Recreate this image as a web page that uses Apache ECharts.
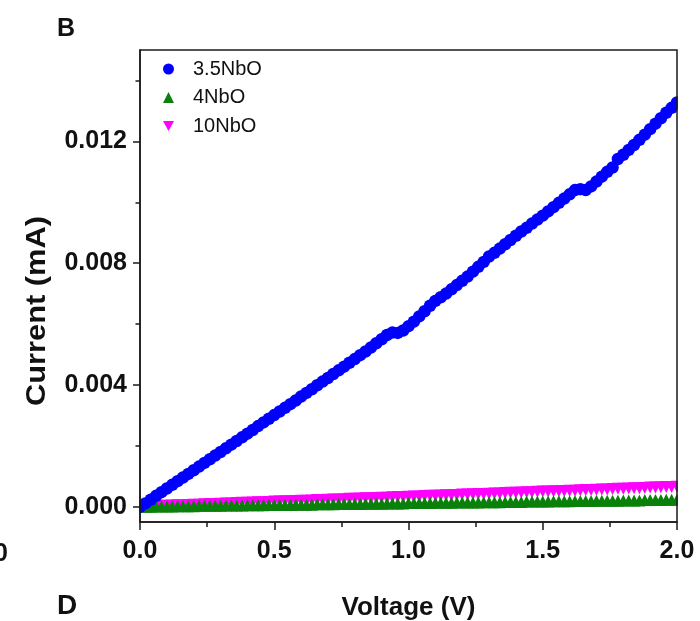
<!DOCTYPE html>
<html>
<head>
<meta charset="utf-8">
<script src="https://cdn.jsdelivr.net/npm/echarts@6/dist/echarts.min.js"></script>
<style>
  html, body { margin: 0; padding: 0; background: #fff; }
  #chart { width: 700px; height: 621px; }
</style>
</head>
<body>
<div id="chart"></div>
<script>
// Sweep voltage (V)
const voltage = [
  0.00,0.02,0.04,0.06,0.08,0.10,0.12,0.14,0.16,0.18,
  0.20,0.22,0.24,0.26,0.28,0.30,0.32,0.34,0.36,0.38,
  0.40,0.42,0.44,0.46,0.48,0.50,0.52,0.54,0.56,0.58,
  0.60,0.62,0.64,0.66,0.68,0.70,0.72,0.74,0.76,0.78,
  0.80,0.82,0.84,0.86,0.88,0.90,0.92,0.94,0.96,0.98,
  1.00,1.02,1.04,1.06,1.08,1.10,1.12,1.14,1.16,1.18,
  1.20,1.22,1.24,1.26,1.28,1.30,1.32,1.34,1.36,1.38,
  1.40,1.42,1.44,1.46,1.48,1.50,1.52,1.54,1.56,1.58,
  1.60,1.62,1.64,1.66,1.68,1.70,1.72,1.74,1.76,1.78,
  1.80,1.82,1.84,1.86,1.88,1.90,1.92,1.94,1.96,1.98,
  2.00
];

// Current (mA) for each sample
const current35NbO = [
  0.00000,0.00011,0.00023,0.00036,0.00048,0.00060,0.00072,0.00084,0.00096,0.00108,
  0.00120,0.00132,0.00144,0.00156,0.00168,0.00180,0.00192,0.00204,0.00216,0.00228,
  0.00240,0.00252,0.00265,0.00277,0.00289,0.00301,0.00313,0.00325,0.00337,0.00349,
  0.00362,0.00374,0.00386,0.00399,0.00411,0.00423,0.00436,0.00448,0.00460,0.00473,
  0.00485,0.00498,0.00510,0.00523,0.00537,0.00550,0.00564,0.00572,0.00571,0.00579,
  0.00593,0.00608,0.00625,0.00642,0.00660,0.00676,0.00688,0.00700,0.00714,0.00728,
  0.00742,0.00756,0.00772,0.00788,0.00804,0.00822,0.00834,0.00848,0.00862,0.00876,
  0.00890,0.00904,0.00916,0.00930,0.00943,0.00956,0.00970,0.00984,0.00998,0.01012,
  0.01026,0.01040,0.01043,0.01040,0.01052,0.01068,0.01084,0.01100,0.01114,0.01142,
  0.01156,0.01172,0.01188,0.01205,0.01222,0.01240,0.01258,0.01276,0.01294,0.01310,
  0.01328
];

const current4NbO = [
  0.00000,0.00000,0.00000,0.00001,0.00001,0.00001,0.00001,0.00002,0.00002,0.00002,
  0.00002,0.00003,0.00003,0.00003,0.00003,0.00003,0.00004,0.00004,0.00004,0.00004,
  0.00005,0.00005,0.00005,0.00005,0.00006,0.00006,0.00006,0.00006,0.00006,0.00007,
  0.00007,0.00007,0.00007,0.00008,0.00008,0.00008,0.00008,0.00009,0.00009,0.00009,
  0.00009,0.00009,0.00010,0.00010,0.00010,0.00010,0.00011,0.00011,0.00011,0.00011,
  0.00012,0.00012,0.00012,0.00012,0.00012,0.00013,0.00013,0.00013,0.00013,0.00014,
  0.00014,0.00014,0.00014,0.00014,0.00015,0.00015,0.00015,0.00015,0.00016,0.00016,
  0.00016,0.00016,0.00017,0.00017,0.00017,0.00017,0.00017,0.00018,0.00018,0.00018,
  0.00018,0.00019,0.00019,0.00019,0.00019,0.00020,0.00020,0.00020,0.00020,0.00020,
  0.00021,0.00021,0.00021,0.00021,0.00022,0.00022,0.00022,0.00022,0.00023,0.00023,
  0.00023
];

const current10NbO = [
  0.00000,0.00001,0.00001,0.00002,0.00003,0.00003,0.00004,0.00005,0.00005,0.00006,
  0.00007,0.00007,0.00008,0.00009,0.00009,0.00010,0.00011,0.00011,0.00012,0.00013,
  0.00013,0.00014,0.00015,0.00015,0.00016,0.00017,0.00017,0.00018,0.00018,0.00019,
  0.00020,0.00020,0.00021,0.00022,0.00022,0.00023,0.00024,0.00024,0.00025,0.00026,
  0.00026,0.00027,0.00028,0.00028,0.00029,0.00030,0.00030,0.00031,0.00032,0.00032,
  0.00033,0.00034,0.00034,0.00035,0.00036,0.00036,0.00037,0.00038,0.00038,0.00039,
  0.00040,0.00040,0.00041,0.00042,0.00042,0.00043,0.00044,0.00044,0.00045,0.00046,
  0.00046,0.00047,0.00048,0.00048,0.00049,0.00050,0.00050,0.00051,0.00051,0.00052,
  0.00053,0.00053,0.00054,0.00055,0.00055,0.00056,0.00057,0.00057,0.00058,0.00059,
  0.00059,0.00060,0.00061,0.00061,0.00062,0.00063,0.00063,0.00064,0.00065,0.00065,
  0.00066
];

const seriesNames = ['3.5NbO', '4NbO', '10NbO'];
const yMajorTicks = [0, 0.004, 0.008, 0.012];
const yMinorTicks = [0.002, 0.006, 0.010, 0.014];

const FONT = '"Liberation Sans", Arial, sans-serif';
const AXIS_COLOR = '#1a1a1a';
const INVERTED_TRIANGLE = 'path://M0,0 L10,0 L5,9 Z';

function pairs(xs, ys) {
  return xs.map((x, i) => [x, ys[i]]);
}

const chart = echarts.init(document.getElementById('chart'), null, { renderer: 'canvas' });

chart.setOption({
  backgroundColor: '#fff',
  animation: false,
  textStyle: { fontFamily: FONT },
  grid: {
    left: 140, right: 23, top: 50, bottom: 99,
    show: true, borderColor: AXIS_COLOR, borderWidth: 1.5,
    z: 10,
    containLabel: false,
    outerBoundsMode: 'none'
  },
  legend: {
    orient: 'vertical',
    left: 163, top: 59,
    padding: 0,
    itemWidth: 11, itemHeight: 11,
    itemGap: 8.5,
    data: seriesNames,
    textStyle: {
      fontFamily: FONT, fontSize: 20, color: '#111',
      lineHeight: 20, padding: [0, 0, 0, 14]
    }
  },
  xAxis: {
    type: 'value',
    min: 0, max: 2, interval: 0.5,
    z: 10,
    name: 'Voltage (V)',
    nameLocation: 'middle',
    nameGap: 73,
    nameTextStyle: { fontFamily: FONT, fontSize: 26, fontWeight: 'bold', color: '#111' },
    axisLine: { onZero: false, lineStyle: { color: AXIS_COLOR, width: 1.5 } },
    axisTick: { length: 8, lineStyle: { color: AXIS_COLOR, width: 1.5 } },
    minorTick: { show: true, splitNumber: 2, length: 5, lineStyle: { color: AXIS_COLOR, width: 1.5 } },
    splitLine: { show: false },
    axisLabel: {
      margin: 17,
      fontFamily: FONT, fontSize: 25, fontWeight: 'bold', color: '#111',
      formatter: v => v.toFixed(1)
    }
  },
  yAxis: [
    {
      type: 'value',
      min: -0.0005, max: 0.015,
      z: 10,
      axisLine: { show: true, onZero: false, lineStyle: { color: AXIS_COLOR, width: 1.5 } },
      axisTick: { show: true, length: 7, customValues: yMajorTicks, lineStyle: { color: AXIS_COLOR, width: 1.5 } },
      splitLine: { show: false },
      axisLabel: {
        margin: 13,
        customValues: yMajorTicks,
        fontFamily: FONT, fontSize: 25, fontWeight: 'bold', color: '#111',
        formatter: v => v.toFixed(3)
      }
    },
    {
      type: 'value',
      min: -0.0005, max: 0.015,
      position: 'left',
      z: 10,
      axisLine: { show: false, onZero: false },
      axisTick: { show: true, length: 4.5, customValues: yMinorTicks, lineStyle: { color: AXIS_COLOR, width: 1.5 } },
      splitLine: { show: false },
      axisLabel: { show: false }
    }
  ],
  series: [
    {
      name: '3.5NbO',
      type: 'scatter',
      data: pairs(voltage, current35NbO),
      symbol: 'circle',
      symbolSize: 12.5,
      itemStyle: { color: '#0000ff', opacity: 1 },
      z: 4
    },
    {
      name: '4NbO',
      type: 'scatter',
      data: pairs(voltage, current4NbO),
      symbol: 'triangle',
      symbolSize: 12,
      itemStyle: { color: '#0a800a', opacity: 1 },
      z: 3
    },
    {
      name: '10NbO',
      type: 'scatter',
      data: pairs(voltage, current10NbO),
      symbol: INVERTED_TRIANGLE,
      symbolSize: 12,
      itemStyle: { color: '#ff00ff', opacity: 1 },
      z: 2
    }
  ],
  graphic: [
    // white masks trimming markers that spill past the plot frame
    {
      type: 'rect', z: 6, silent: true,
      shape: { x: 677.8, y: 30, width: 30, height: 491 },
      style: { fill: '#fff' }
    },
    {
      type: 'rect', z: 6, silent: true,
      shape: { x: 128, y: 495, width: 11.3, height: 26 },
      style: { fill: '#fff' }
    },
    {
      type: 'text', z: 20,
      x: 37, y: 311, rotation: Math.PI / 2, scaleX: 1.1,
      style: {
        text: 'Current (mA)', font: 'bold 28px ' + FONT, fill: '#111',
        align: 'center', verticalAlign: 'middle'
      }
    },
    {
      type: 'text', left: 57, top: 17,
      style: { text: 'B', font: 'bold 25px ' + FONT, fill: '#111' }
    },
    {
      type: 'text', left: 57, top: 592,
      style: { text: 'D', font: 'bold 28px ' + FONT, fill: '#111' }
    },
    {
      type: 'text', x: 8, y: 554,
      style: { text: '2.0', font: 'bold 25px ' + FONT, fill: '#111', align: 'right', verticalAlign: 'middle' }
    }
  ]
});
</script>
</body>
</html>
